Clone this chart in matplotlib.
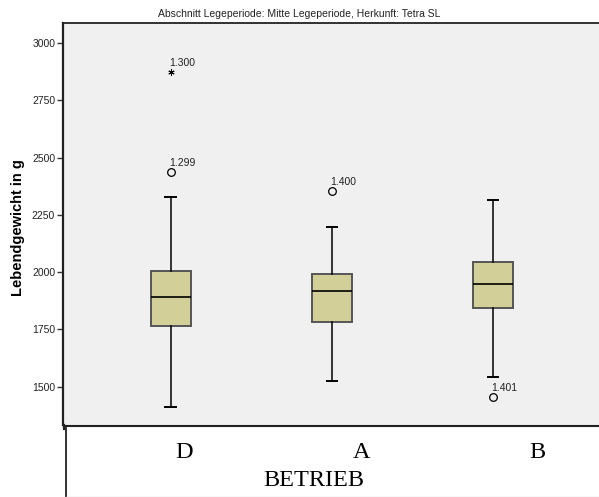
import matplotlib
matplotlib.use("Agg")
import matplotlib.pyplot as plt
from matplotlib.lines import Line2D

plt.rcParams['font.family'] = ['Liberation Sans', 'DejaVu Sans']

# Betriebe and their box statistics (Lebendgewicht in g)
betriebe = ["D", "A", "B"]
whisker_low = [1410, 1526, 1542]
q1 = [1765, 1781, 1843]
median = [1891, 1917, 1948]
q3 = [2006, 1993, 2045]
whisker_high = [2327, 2196, 2315]

# outliers: (betrieb index, value, case label, extreme?)
outlier_idx = [0, 0, 1, 2]
outlier_val = [2876, 2438, 2356, 1455]
outlier_lbl = ["1.300", "1.299", "1.400", "1.401"]
outlier_extreme = [True, False, False, False]

yticks = [1500, 1750, 2000, 2250, 2500, 2750, 3000]

fig = plt.figure(figsize=(5.99, 4.97), dpi=100)
ax = fig.add_axes([0.106, 0.144, 0.894, 0.809])
ax.set_facecolor("#f0f0f0")

stats = []
for i in range(len(betriebe)):
    stats.append(dict(whislo=whisker_low[i], q1=q1[i], med=median[i],
                      q3=q3[i], whishi=whisker_high[i], fliers=[]))

ax.bxp(stats, positions=range(len(betriebe)), widths=0.25, patch_artist=True,
       showfliers=False,
       boxprops=dict(facecolor="#d3cf98", edgecolor="#555555", linewidth=1.4),
       medianprops=dict(color="black", linewidth=1.2),
       whiskerprops=dict(color="black", linewidth=1.1),
       capprops=dict(color="black", linewidth=1.4),
       capwidths=0.065)

for i, v, lbl, ext in zip(outlier_idx, outlier_val, outlier_lbl, outlier_extreme):
    if ext:
        ax.plot(i, v, marker=(6, 2, 0), markersize=4.5, color="black",
                markeredgewidth=0.7, linestyle="none")
    else:
        ax.plot(i, v, marker="o", markersize=5.5, markerfacecolor="none",
                markeredgecolor="black", markeredgewidth=0.9, linestyle="none")
    ax.annotate(lbl, (i, v), xytext=(-1.2, 2.5), textcoords="offset points",
                ha="left", va="bottom", fontsize=7.5, color="#222222")

ax.set_xlim(-0.665, 2.656)
ax.set_ylim(1330, 3087)
ax.set_yticks(yticks)
ax.set_yticklabels([str(t) for t in yticks], fontsize=7.5, color="#222222")
ax.tick_params(axis="y", direction="out", length=4, width=1, color="#333333", pad=2)
ax.set_xticks([])

ax.spines["right"].set_visible(False)
ax.spines["bottom"].set_visible(False)
ax.spines["left"].set_linewidth(1.6)
ax.spines["left"].set_color("#222222")
ax.spines["top"].set_linewidth(1.3)
ax.spines["top"].set_color("#222222")

ax.set_ylabel("Lebendgewicht in g", fontsize=10.5, fontweight="bold")
ax.yaxis.set_label_coords(-0.071, 0.4925)
fig.text(0.499, 0.971, "Abschnitt Legeperiode: Mitte Legeperiode, Herkunft: Tetra SL",
         ha="center", va="center", fontsize=7.5, color="#222222")

# category panel below the plot area
W, H = 599.0, 497.0
def fx(px):
    return px / W
def fy(py):
    return 1 - py / H

fig.add_artist(Line2D([fx(63.5), fx(63.5)], [fy(425), fy(429)], color="#222222", linewidth=1.6))
fig.add_artist(Line2D([fx(65.5), 1.0], [fy(425.5), fy(425.5)], color="#222222", linewidth=1.5))
fig.add_artist(Line2D([fx(65.5), fx(65.5)], [fy(425.5), 0.0], color="#222222", linewidth=1.3))
fig.add_artist(Line2D([fx(66), 1.0], [fy(496.5), fy(496.5)], color="#dddddd", linewidth=1.0))

label_x = [184, 361.7, 537.5]
for name, px in zip(betriebe, label_x):
    fig.text(fx(px), fy(452), name, ha="center", va="center", fontsize=17.5,
             family=["Liberation Serif", "DejaVu Serif"])
fig.text(fx(314), fy(480), "BETRIEB", ha="center", va="center", fontsize=17.5,
         family=["Liberation Serif", "DejaVu Serif"])

fig.savefig("out.png", dpi=100, facecolor="white")
